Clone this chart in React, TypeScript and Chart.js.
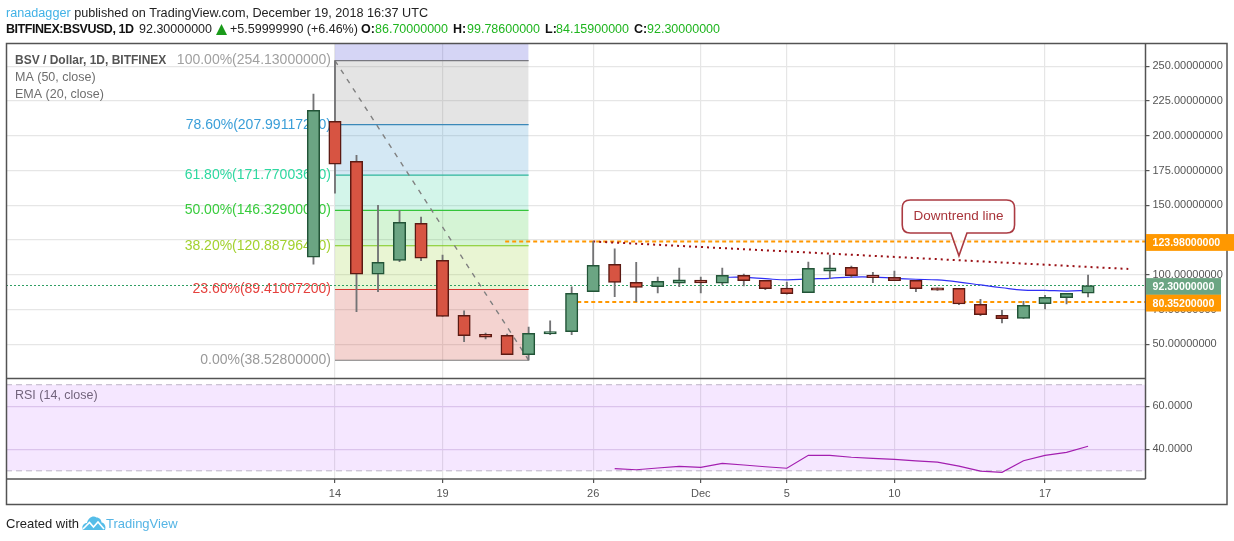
import React, { useEffect, useRef } from "react";
import { Chart, registerables } from "chart.js";

Chart.register(...registerables);

const dates = [
  "Nov 13","Nov 14","Nov 15","Nov 16","Nov 17","Nov 18","Nov 19","Nov 20","Nov 21","Nov 22","Nov 23","Nov 24",
  "Nov 25","Nov 26","Nov 27","Nov 28","Nov 29","Nov 30","Dec 1","Dec 2","Dec 3","Dec 4","Dec 5","Dec 6",
  "Dec 7","Dec 8","Dec 9","Dec 10","Dec 11","Dec 12","Dec 13","Dec 14","Dec 15","Dec 16","Dec 17","Dec 18","Dec 19",
];
const opens = [112.6,210.4,181.7,100.4,110.4,137,110.4,70.9,57.2,56.5,42.5,57.4,59.1,87.8,107.6,94.6,91.4,94,96.2,93.9,99.6,96,90.5,87.1,102.6,105.4,99.8,98.2,96,90.7,90.3,78.8,70.9,68.7,79.2,83.5,86.7];
const closes = [218.3,179.5,100.4,109,137.8,111.9,70.1,56.2,55.2,42.5,57.9,59.2,86.7,106.8,94.6,91,95.3,96.4,94.2,99.6,95.8,90,86.4,104.7,105,99.4,98,95.8,90,88.9,79,71.3,68.4,78,83.8,86.7,92.3];
const highs = [230,254.13,186,150,146.4,141.6,114.2,74,58.1,57.4,62.4,66.8,91.4,123.98,118.6,109,98.4,104.9,98.4,104.9,100.6,96,94.8,109.2,114.2,106.3,101.8,102.7,96,90.7,90.3,82.4,74.5,80.9,85.3,86.7,99.786];
const lows = [107.6,158.8,73.5,87.8,109.4,110.1,70.1,51.9,53.8,42.5,38.53,56.9,56.9,87.8,84.2,80.6,87,91.4,87,92.7,92,89.3,86,87.1,97.2,98.2,94.3,95.8,87.8,88.8,78.5,70.6,65.3,68.7,75.4,79,84.159];

const emaStart = 19;
const emaValues = [98.2,98.2,97.2,96.3,97,97.5,98.4,98.4,97.5,96.8,96.3,94.8,92.7,90.7,89,88.8,88.3,88.8];
const rsiStart = 14;
const rsiValues = [31,30.5,31.3,32.1,31.6,33.5,32.7,31.9,31.2,37.2,37.2,36.3,35.8,35.3,34.6,34,32.2,29.9,29.3,34.7,37.2,38.6,41.4];

const priceTicks = [250,225,200,175,150,125,100,75,50];
const rsiTicks = [60,40];
const xTickDays = ["Nov 14","Nov 19","Nov 26","Dec 1","Dec 5","Dec 10","Dec 17"];
const xTickLabels = ["14","19","26","Dec","5","10","17"];

const fibPercents = ["0.00%","23.60%","38.20%","50.00%","61.80%","78.60%","100.00%"];
const fibPrices = [38.528,89.41007200,120.88796400,146.329,171.77003600,207.99117200,254.13];
const fibLabelColors = ["#999999","#e5413d","#a3d12f","#38cc3d","#2ed8a0","#3a9ed8","#a0a0a0"];
const fibLineColors = ["#7c7c7c","#d8352f","#7fc91a","#35c43a","#2fb59c","#3b88b8","#77777f"];
const fibZoneColors = ["","rgba(200,35,20,0.2)","rgba(145,205,35,0.2)","rgba(45,200,45,0.2)","rgba(35,205,150,0.2)","rgba(40,140,200,0.2)","rgba(120,120,120,0.2)"];
const fibZoneTopColor = "rgba(45,45,205,0.2)";
const fibRangeDays = [1, 10];

const resistanceLevel = 123.98;
const resistanceDays = [8.91, 38.7];
const supportLevel = 80.352;
const supportDays = [12.26, 38.7];
const lastPrice = 92.3;
const trendDays = [13, 37.87];
const trendPrices = [123.98, 104.2];
const calloutDay = 30;
const calloutPrice = 113.7;
const rsiUpper = 70;
const rsiLower = 30;

const FONT = "'Liberation Sans', Arial, sans-serif";
const X_MIN = -14.29;
const X_MAX = 38.67;
const Y_MAX = 266.4;
const Y_MIN = 25.4;
const RSI_MAX = 72.9;
const RSI_MIN = 26.2;

const xy = (xs: number[], ys: number[]) => xs.map((x, i) => ({ x, y: ys[i] }));
const days = dates.map((_, i) => i);
const flatLine = (xs: number[], y: number) => xs.map((x) => ({ x, y }));

function roundedCallout(ctx: CanvasRenderingContext2D, tipX: number, tipY: number) {
  const l = tipX - 56.7, r = tipX + 55.6, t = tipY - 55.7, b = tipY - 22.7, rad = 8;
  ctx.beginPath();
  ctx.moveTo(l + rad, t);
  ctx.lineTo(r - rad, t);
  ctx.quadraticCurveTo(r, t, r, t + rad);
  ctx.lineTo(r, b - rad);
  ctx.quadraticCurveTo(r, b, r - rad, b);
  ctx.lineTo(tipX + 8, b);
  ctx.lineTo(tipX, tipY);
  ctx.lineTo(tipX - 8, b);
  ctx.lineTo(l + rad, b);
  ctx.quadraticCurveTo(l, b, l, b - rad);
  ctx.lineTo(l, t + rad);
  ctx.quadraticCurveTo(l, t, l + rad, t);
  ctx.closePath();
}

const overlayPlugin = {
  id: "overlay",
  beforeDatasetsDraw(chart: any) {
    const { ctx, scales } = chart;
    ctx.save();
    ctx.textBaseline = "middle";
    ctx.textAlign = "right";
    ctx.font = `14px ${FONT}`;
    const xRight = scales.x.getPixelForValue(fibRangeDays[0]) - 4;
    fibPrices.forEach((p, i) => {
      ctx.fillStyle = fibLabelColors[i];
      ctx.fillText(`${fibPercents[i]}(${p.toFixed(8)})`, xRight, scales.y.getPixelForValue(p));
    });
    ctx.textAlign = "left";
    ctx.fillStyle = "#555555";
    ctx.font = `bold 12px ${FONT}`;
    ctx.fillText("BSV / Dollar, 1D, BITFINEX", 15, 61);
    ctx.font = `12.5px ${FONT}`;
    ctx.fillStyle = "#6e6e6e";
    ctx.fillText("MA (50, close)", 15, 78);
    ctx.fillText("EMA (20, close)", 15, 95);
    ctx.fillText("RSI (14, close)", 15, 396);
    ctx.restore();
  },
  afterDraw(chart: any) {
    const { ctx, scales } = chart;
    const { x, y } = scales;
    ctx.save();
    // callout
    const tipX = x.getPixelForValue(calloutDay);
    const tipY = y.getPixelForValue(calloutPrice);
    roundedCallout(ctx, tipX, tipY);
    ctx.fillStyle = "rgba(255,255,255,0.75)";
    ctx.fill();
    ctx.strokeStyle = "#ab3a42";
    ctx.lineWidth = 1.6;
    ctx.stroke();
    ctx.fillStyle = "#a8343a";
    ctx.font = `13.5px ${FONT}`;
    ctx.textAlign = "center";
    ctx.textBaseline = "middle";
    ctx.fillText("Downtrend line", tipX - 0.5, tipY - 39.5);

    // pane frames
    ctx.strokeStyle = "#535353";
    ctx.lineWidth = 1.5;
    ctx.strokeRect(6.5, 43.5, 1220.5, 461);
    ctx.beginPath();
    ctx.moveTo(6.5, 378.5);
    ctx.lineTo(1145.5, 378.5);
    ctx.moveTo(6.5, 479);
    ctx.lineTo(1145.5, 479);
    ctx.moveTo(1145.5, 43.5);
    ctx.lineTo(1145.5, 479);
    ctx.stroke();

    // price tags
    const tags = [
      { value: resistanceLevel, color: "#ff9800", right: 1234 },
      { value: lastPrice, color: "#6ba583", right: 1221 },
      { value: supportLevel, color: "#ff9800", right: 1221 },
    ];
    tags.forEach((tag) => {
      const py = y.getPixelForValue(tag.value) + 1;
      ctx.fillStyle = tag.color;
      ctx.fillRect(1146, py - 8.4, tag.right - 1146, 16.8);
      ctx.fillStyle = "#ffffff";
      ctx.font = `bold 10.6px ${FONT}`;
      ctx.textAlign = "left";
      ctx.textBaseline = "middle";
      ctx.fillText(tag.value.toFixed(8), 1152.5, py + 0.5);
    });
    ctx.restore();
  },
};

const lineBase = { type: "line", pointRadius: 0, pointHoverRadius: 0, tension: 0, fill: false, xAxisID: "x" };

function buildDatasets() {
  const sets: any[] = [];
  // Fibonacci levels and zones
  fibPrices.forEach((p, i) => {
    sets.push({
      ...lineBase,
      label: fibPercents[i],
      yAxisID: "y",
      data: flatLine(fibRangeDays, p),
      borderColor: fibLineColors[i],
      borderWidth: 1.2,
      backgroundColor: fibZoneColors[i],
      fill: i === 0 ? false : "-1",
      order: 20,
    });
  });
  sets.push({
    ...lineBase,
    label: "top zone",
    yAxisID: "y",
    data: flatLine(fibRangeDays, Y_MAX),
    borderColor: "rgba(0,0,0,0)",
    borderWidth: 0,
    backgroundColor: fibZoneTopColor,
    fill: "-1",
    order: 20,
  });
  sets.push({
    ...lineBase,
    label: "Fib trend",
    yAxisID: "y",
    data: xy(fibRangeDays, [fibPrices[6], fibPrices[0]]),
    borderColor: "#808080",
    borderWidth: 1.4,
    borderDash: [5, 6],
    order: 10,
  });
  sets.push({
    ...lineBase,
    label: "Last price",
    yAxisID: "y",
    data: flatLine([X_MIN, X_MAX], lastPrice),
    borderColor: "#2f9e63",
    borderWidth: 1.2,
    borderDash: [2, 2],
    order: 9,
  });
  sets.push({
    ...lineBase,
    label: "Resistance",
    yAxisID: "y",
    data: flatLine(resistanceDays, resistanceLevel),
    borderColor: "#ff9800",
    borderWidth: 2,
    borderDash: [4, 3],
    order: 8,
  });
  sets.push({
    ...lineBase,
    label: "Support",
    yAxisID: "y",
    data: flatLine(supportDays, supportLevel),
    borderColor: "#ff9800",
    borderWidth: 2,
    borderDash: [4, 3],
    order: 8,
  });
  sets.push({
    ...lineBase,
    label: "Downtrend",
    yAxisID: "y",
    data: xy(trendDays, trendPrices),
    borderColor: "#990f14",
    borderWidth: 2,
    borderDash: [2, 4],
    order: 7,
  });
  sets.push({
    ...lineBase,
    label: "EMA (20, close)",
    yAxisID: "y",
    data: emaValues.map((v, i) => ({ x: emaStart + i, y: v })),
    borderColor: "#2f2ff5",
    borderWidth: 1.2,
    tension: 0.4,
    order: 6,
  });
  // Candles
  sets.push({
    type: "bar",
    label: "Wicks",
    xAxisID: "x",
    yAxisID: "y",
    data: days.map((d) => ({ x: d, y: [lows[d], highs[d]] })),
    backgroundColor: "#737375",
    barThickness: 1.2,
    grouped: false,
    order: 5,
  });
  sets.push({
    type: "bar",
    label: "BSV / Dollar",
    xAxisID: "x",
    yAxisID: "y",
    data: days.map((d) => ({ x: d, y: [opens[d], closes[d]] })),
    backgroundColor: days.map((d) => (closes[d] >= opens[d] ? "#6ba583" : "#d75442")),
    borderColor: days.map((d) => (closes[d] >= opens[d] ? "#225437" : "#5b1a13")),
    borderWidth: 1.5,
    borderSkipped: false,
    barThickness: 12.4,
    grouped: false,
    order: 4,
  });
  // RSI pane
  const rsiEdge = [X_MIN, X_MAX];
  sets.push({
    ...lineBase,
    label: "RSI upper",
    yAxisID: "yRsi",
    data: flatLine(rsiEdge, rsiUpper),
    borderColor: "#bdb3c6",
    borderWidth: 1,
    borderDash: [6, 4],
    order: 12,
  });
  sets.push({
    ...lineBase,
    label: "RSI lower",
    yAxisID: "yRsi",
    data: flatLine(rsiEdge, rsiLower),
    borderColor: "#bdb3c6",
    borderWidth: 1,
    borderDash: [6, 4],
    backgroundColor: "rgba(153,21,255,0.1)",
    fill: "-1",
    order: 12,
  });
  sets.push({
    ...lineBase,
    label: "RSI (14, close)",
    yAxisID: "yRsi",
    data: rsiValues.map((v, i) => ({ x: rsiStart + i, y: v })),
    borderColor: "#a31fb0",
    borderWidth: 1.2,
    order: 3,
  });
  return sets;
}

export default function App() {
  const ref = useRef<HTMLCanvasElement | null>(null);
  useEffect(() => {
    if (!ref.current) return;
    const tickFont = { family: FONT, size: 11 };
    const chart = new Chart(ref.current, {
      type: "bar",
      data: { datasets: buildDatasets() },
      plugins: [overlayPlugin],
      options: {
        animation: false,
        responsive: false,
        devicePixelRatio: 1,
        parsing: undefined,
        layout: { padding: { left: 6, top: 43.5, right: 0, bottom: 0 } },
        plugins: { legend: { display: false }, tooltip: { enabled: false } },
        scales: {
          x: {
            type: "linear",
            position: "bottom",
            min: X_MIN,
            max: X_MAX,
            offset: false,
            afterBuildTicks: (s: any) => {
              s.ticks = xTickDays.map((d) => ({ value: dates.indexOf(d) }));
            },
            afterFit: (s: any) => {
              s.height = 62;
            },
            ticks: {
              autoSkip: false,
              maxRotation: 0,
              padding: 4,
              color: "#555555",
              font: tickFont,
              callback: (v: any) => xTickLabels[xTickDays.indexOf(dates[v])],
            },
            grid: { offset: false, color: "#e6e6e6", lineWidth: 1.2, tickLength: 4, tickColor: "#555555" },
            border: { display: false },
          },
          y: {
            type: "linear",
            position: "right",
            stack: "panes",
            stackWeight: 335,
            min: Y_MIN,
            max: Y_MAX,
            afterBuildTicks: (s: any) => {
              s.ticks = priceTicks.map((value) => ({ value }));
            },
            afterFit: (s: any) => {
              s.width = 88.5;
            },
            ticks: {
              padding: 3,
              color: "#555555",
              font: tickFont,
              callback: (v: any) => Number(v).toFixed(8),
            },
            grid: { color: "#e6e6e6", lineWidth: 1.2, tickLength: 4, tickColor: "#555555" },
            border: { display: false },
          },
          yRsi: {
            type: "linear",
            position: "right",
            stack: "panes",
            stackWeight: 100.5,
            min: RSI_MIN,
            max: RSI_MAX,
            afterBuildTicks: (s: any) => {
              s.ticks = rsiTicks.map((value) => ({ value }));
            },
            afterFit: (s: any) => {
              s.width = 88.5;
            },
            ticks: {
              padding: 3,
              color: "#555555",
              font: tickFont,
              callback: (v: any) => Number(v).toFixed(4),
            },
            grid: { color: "#e2d8ea", lineWidth: 1.2, tickLength: 4, tickColor: "#555555" },
            border: { display: false },
          },
        },
      } as any,
    } as any);
    return () => chart.destroy();
  }, []);

  const run = (left: number, text: string, color: string, bold = false, extra: React.CSSProperties = {}): React.ReactNode => (
    <span style={{ position: "absolute", left, top: 22, color, fontWeight: bold ? 700 : 400, whiteSpace: "pre", ...extra }}>{text}</span>
  );

  return (
    <div style={{ position: "fixed", left: 0, top: 0, width: 1234, height: 541, background: "#fff", overflow: "hidden", fontFamily: FONT, fontSize: 12.5, lineHeight: "15px" }}>
      <canvas ref={ref} width={1234} height={541} style={{ position: "absolute", left: 0, top: 0, width: 1234, height: 541 }} />
      <div style={{ position: "absolute", left: 6, top: 5.5, whiteSpace: "pre", color: "#222", fontSize: 12.65 }}>
        <span style={{ color: "#42b2e6" }}>ranadagger</span> published on TradingView.com, December 19, 2018 16:37 UTC
      </div>
      {run(6, "BITFINEX:BSVUSD, 1D", "#111", true, { letterSpacing: -0.45 })}
      {run(139, "92.30000000", "#222")}
      <div style={{ position: "absolute", left: 216, top: 24, width: 11, height: 11, background: "#1a9a1a", clipPath: "polygon(50% 0, 100% 100%, 0 100%)" }} />
      {run(230, "+5.59999990 (+6.46%)", "#222")}
      {run(361, "O:", "#111", true)}
      {run(375, "86.70000000", "#1fb51f")}
      {run(453, "H:", "#111", true)}
      {run(467, "99.78600000", "#1fb51f")}
      {run(545, "L:", "#111", true)}
      {run(556, "84.15900000", "#1fb51f")}
      {run(634, "C:", "#111", true)}
      {run(647, "92.30000000", "#1fb51f")}
      <div style={{ position: "absolute", left: 6, top: 516, color: "#222", whiteSpace: "pre", fontSize: 13 }}>Created with</div>
      <svg style={{ position: "absolute", left: 82, top: 515 }} width="24" height="16" viewBox="0 0 24 16">
        <path d="M1 15 C-1 11 2 8 5 8 C6 3 11 0 14.5 2.5 C17.5 2.5 19.5 5 19.5 7.5 C22 7.5 24.5 11 23 15 Z" fill="#55bde8" />
        <path d="M1 14 L7.5 7.5 L11.5 12 L16 7 L22 14" fill="none" stroke="#ffffff" strokeWidth="1.6" />
      </svg>
      <div style={{ position: "absolute", left: 106, top: 516, color: "#55b5e5", whiteSpace: "pre", fontSize: 13 }}>TradingView</div>
    </div>
  );
}
